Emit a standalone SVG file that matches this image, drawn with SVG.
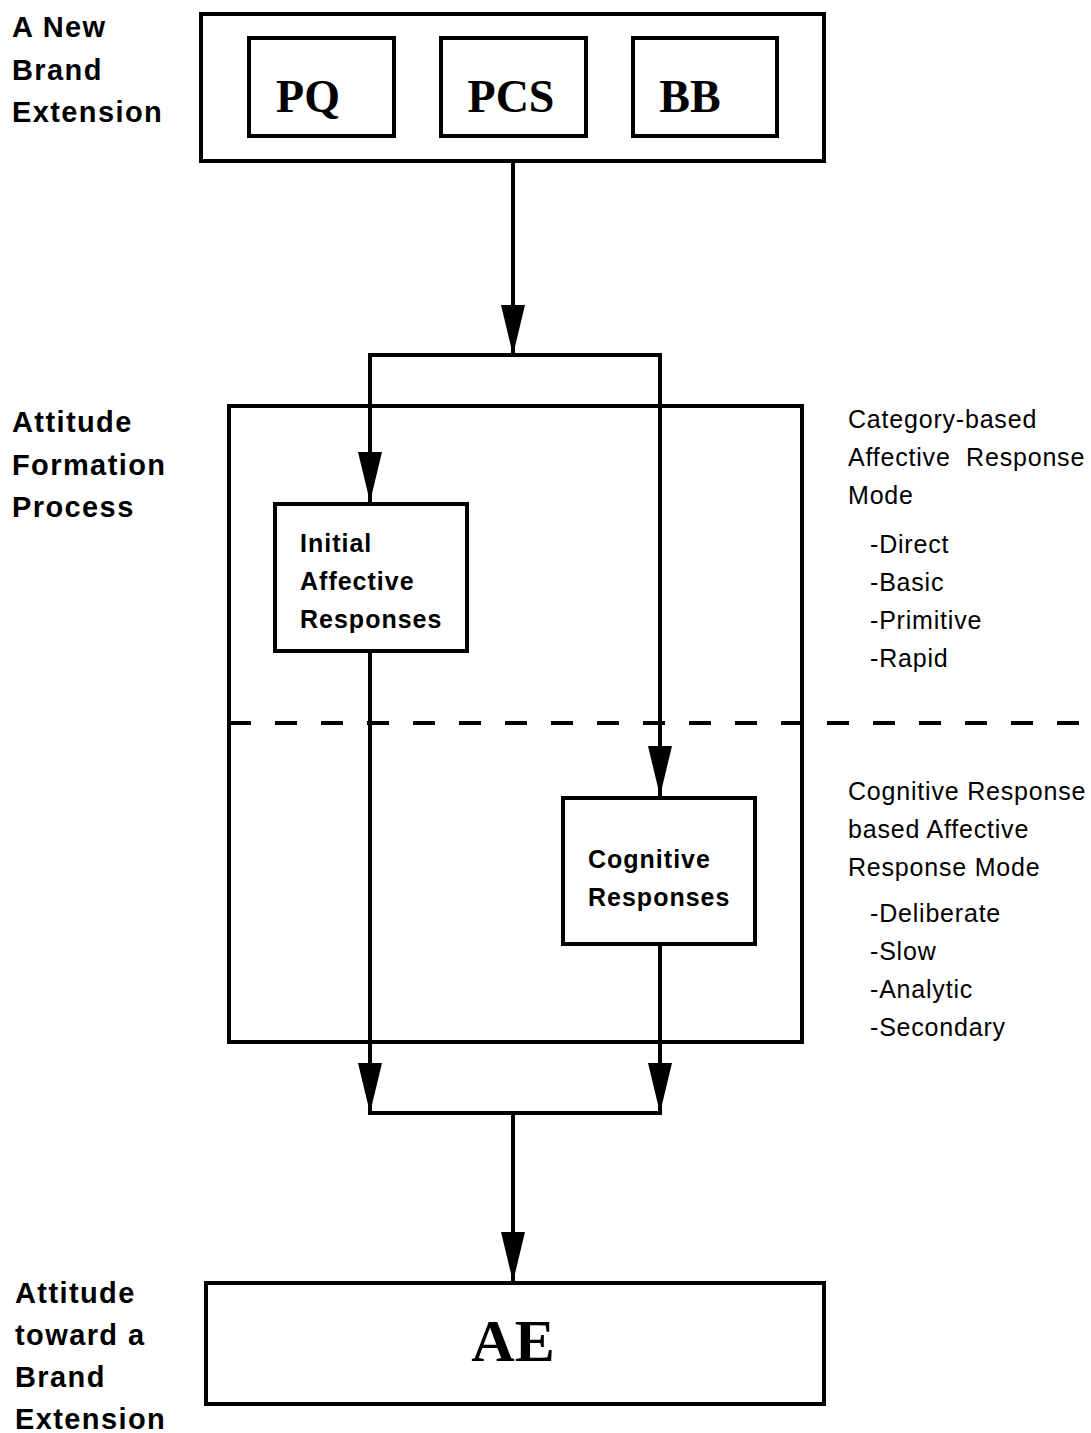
<svg xmlns="http://www.w3.org/2000/svg" width="1091" height="1433" viewBox="0 0 1091 1433">
<defs>
<marker id="ah" markerUnits="userSpaceOnUse" markerWidth="50" markerHeight="24" viewBox="0 0 50 24" refX="50" refY="12" orient="auto">
<path d="M0,0 L50,12 L0,24 Z" fill="#000"/>
</marker>
<style>
.box{fill:#fff;stroke:#000;stroke-width:4}
.ln{fill:none;stroke:#000;stroke-width:4}
.lbl{font-family:"Liberation Sans",Arial,sans-serif;font-weight:bold;font-size:29px;letter-spacing:1.4px;fill:#000}
.ser{font-family:"Liberation Serif","Times New Roman",serif;font-weight:bold;fill:#000;text-anchor:middle}
.in{font-family:"Liberation Sans",Arial,sans-serif;font-weight:bold;font-size:25px;letter-spacing:1px;fill:#000}
.rt{font-family:"Liberation Sans",Arial,sans-serif;font-size:25px;letter-spacing:0.8px;fill:#000}
</style>
</defs>
<rect width="1091" height="1433" fill="#fff"/>
<g id="labels-left">
<text class="lbl" x="12" y="37">A New</text>
<text class="lbl" x="12" y="80">Brand</text>
<text class="lbl" x="12" y="122">Extension</text>
<text class="lbl" x="12" y="432">Attitude</text>
<text class="lbl" x="12" y="475">Formation</text>
<text class="lbl" x="12" y="517">Process</text>
<text class="lbl" x="15" y="1303">Attitude</text>
<text class="lbl" x="15" y="1345">toward a</text>
<text class="lbl" x="15" y="1387">Brand</text>
<text class="lbl" x="15" y="1429">Extension</text>
</g>
<g id="new-brand-extension">
<rect class="box" x="201" y="14" width="623" height="147"/>
</g>
<g id="PQ"><rect class="box" x="249" y="38" width="145" height="98"/><text class="ser" x="308" y="112" font-size="46">PQ</text></g>
<g id="PCS"><rect class="box" x="441" y="38" width="145" height="98"/><text class="ser" x="511" y="112" font-size="46">PCS</text></g>
<g id="BB"><rect class="box" x="633" y="38" width="144" height="98"/><text class="ser" x="690" y="112" font-size="46">BB</text></g>
<g id="attitude-formation-process">
<rect class="box" x="229" y="406" width="573" height="636"/>
</g>
<g id="initial-affective">
<rect class="box" x="275" y="504" width="192" height="147"/>
<text class="in" x="300" y="552">Initial</text>
<text class="in" x="300" y="590">Affective</text>
<text class="in" x="300" y="628">Responses</text>
</g>
<g id="cognitive">
<rect class="box" x="563" y="798" width="192" height="146"/>
<text class="in" x="588" y="868">Cognitive</text>
<text class="in" x="588" y="906">Responses</text>
</g>
<g id="AE">
<rect class="box" x="206" y="1283" width="618" height="121"/>
<text class="ser" x="513" y="1361" font-size="60">AE</text>
</g>
<g id="labels-right">
<text class="rt" x="848" y="428">Category-based</text>
<text class="rt" x="848" y="466" xml:space="preserve">Affective  Response</text>
<text class="rt" x="848" y="504">Mode</text>
<text class="rt" x="870" y="553">-Direct</text>
<text class="rt" x="870" y="591">-Basic</text>
<text class="rt" x="870" y="629">-Primitive</text>
<text class="rt" x="870" y="667">-Rapid</text>
<text class="rt" x="848" y="800">Cognitive Response</text>
<text class="rt" x="848" y="838">based Affective</text>
<text class="rt" x="848" y="876">Response Mode</text>
<text class="rt" x="870" y="922">-Deliberate</text>
<text class="rt" x="870" y="960">-Slow</text>
<text class="rt" x="870" y="998">-Analytic</text>
<text class="rt" x="870" y="1036">-Secondary</text>
</g>
<g id="connectors">
<line class="ln" x1="229" y1="723" x2="1091" y2="723" stroke-dasharray="22,24"/>
<line class="ln" x1="513" y1="161" x2="513" y2="355" marker-end="url(#ah)"/>
<polyline class="ln" points="370,460 370,355 660,355 660,760"/>
<line class="ln" x1="370" y1="355" x2="370" y2="502" marker-end="url(#ah)"/>
<line class="ln" x1="660" y1="600" x2="660" y2="796" marker-end="url(#ah)"/>
<line class="ln" x1="370" y1="651" x2="370" y2="1113" marker-end="url(#ah)"/>
<line class="ln" x1="660" y1="944" x2="660" y2="1113" marker-end="url(#ah)"/>
<line class="ln" x1="368" y1="1113" x2="662" y2="1113"/>
<line class="ln" x1="513" y1="1113" x2="513" y2="1282" marker-end="url(#ah)"/>
</g>
</svg>
